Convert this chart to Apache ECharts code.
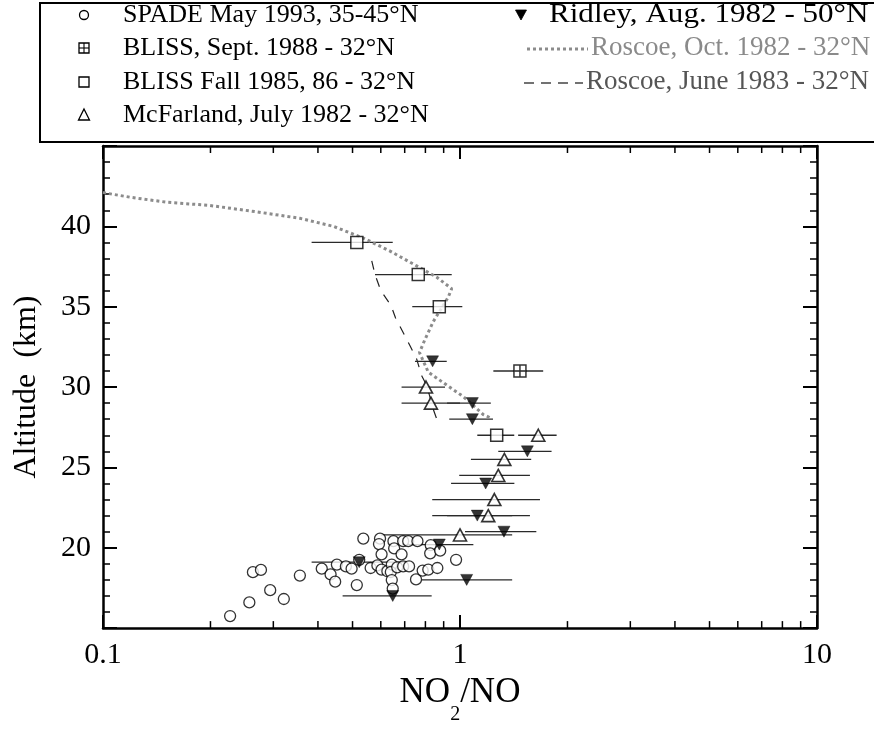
<!DOCTYPE html>
<html>
<head>
<meta charset="utf-8">
<script src="https://cdn.jsdelivr.net/npm/echarts@6/dist/echarts.min.js"></script>
<style>html,body{margin:0;padding:0;background:#fff}#c{width:874px;height:730px}</style>
</head>
<body>
<div id="c"></div>
<script>
// ---- Data ----
// SPADE May 1993 (NO2/NO, altitude km)
var spadeX = [0.227,0.257,0.263,0.277,0.294,0.321,0.356,0.41,0.434,0.452,0.447,0.479,0.497,0.514,0.536,0.522,0.562,0.587,0.597,0.593,0.603,0.603,0.626,0.651,0.654,0.644,0.64,0.644,0.648,0.667,0.686,0.693,0.693,0.716,0.72,0.76,0.753,0.786,0.815,0.828,0.825,0.864,0.88,0.975];
var spadeY = [15.75,16.6,18.48,18.62,17.36,16.81,18.27,18.7,18.34,18.95,17.89,18.84,18.7,17.68,20.57,19.25,18.74,18.9,20.57,20.23,19.59,18.64,18.54,20.41,19.96,18.95,18.49,17.99,17.46,18.78,19.59,20.41,18.84,20.41,18.84,20.41,18.03,18.58,18.64,20.16,19.65,18.74,19.82,19.25];
// BLISS Sept. 1988
var blissSeptX = [1.472];
var blissSeptY = [31];
var blissSeptLo = [1.24];
var blissSeptHi = [1.71];
// BLISS Fall 1985, 86
var blissFallX = [0.514,0.764,0.875,1.267];
var blissFallY = [39,37,35,27];
var blissFallLo = [0.384,0.578,0.735,1.118];
var blissFallHi = [0.648,0.948,1.015,1.419];
// McFarland, July 1982
var mcfX = [0.803,0.829,1.657,1.331,1.28,1.248,1.2,1.0];
var mcfY = [30,29,27,25.5,24.5,23,22,20.8];
var mcfLo = [0.686,0.686,1.455,1.073,0.995,0.836,0.92,0.60];
var mcfHi = [0.908,1.0,1.865,1.583,1.57,1.675,1.57,1.40];
// Ridley, Aug. 1982
var ridX = [0.838,1.083,1.083,1.544,1.18,1.118,1.328,0.875,0.522,1.044,0.648];
var ridY = [31.6,29,28,26,24,22,21,20.2,19.1,18,17];
var ridLo = [0.748,0.92,0.933,1.28,0.944,0.836,1.033,0.69,0.384,0.78,0.469];
var ridHi = [0.918,1.22,1.237,1.805,1.42,1.40,1.636,1.09,0.71,1.40,0.833];
// Roscoe, Oct. 1982 (model profile)
var roscoeOctX = [0.1,0.12,0.151,0.199,0.27,0.356,0.442,0.536,0.637,0.756,0.861,0.948,0.927,0.842,0.798,0.77,0.815,0.918,1.021,1.162,1.23];
var roscoeOctY = [42.1,41.8,41.5,41.3,40.9,40.5,40.0,39.27,38.46,37.54,36.83,36.12,35.6,34.08,32.97,32.15,30.93,30.12,29.41,28.29,28.03];
// Roscoe, June 1983 (model profile)
var roscoeJunX = [0.566,0.578,0.6,0.64,0.66,0.693,0.725,0.756,0.781,0.807,0.842,0.861];
var roscoeJunY = [37.85,37.0,36.0,35.1,34.3,33.4,32.56,31.75,30.7,30.1,28.6,28.0];
// Axis ticks
var xMinorTicks = [0.2,0.3,0.4,0.5,0.6,0.7,0.8,0.9,2,3,4,5,6,7,8,9];
var yHiddenLabels = [15,45];

// ---- Build ----
function pairs(xs, ys){ return xs.map(function(x,i){ return [x, ys[i]]; }); }
function bars(lo, hi, ys){ return ys.map(function(y,i){ return [lo[i], hi[i], y]; }); }

var FONT = "'Liberation Serif','Times New Roman',serif";

function errRender(params, api){
  var a = api.coord([api.value(0), api.value(2)]);
  var b = api.coord([api.value(1), api.value(2)]);
  return {type:'line', shape:{x1:a[0],y1:a[1],x2:b[0],y2:b[1]}, style:{stroke:'#2a2a2a', lineWidth:1.3}};
}
function errSeries(data){
  return {type:'custom', renderItem: errRender, data: data, encode:{x:[0,1], y:2}, z:1, silent:true};
}
function minorTickRender(params, api){
  var cs = params.coordSys;
  var p = api.coord([api.value(0), 30]);
  var bottom = cs.y + cs.height, top = cs.y;
  return {type:'group', children:[
    {type:'line', shape:{x1:p[0], y1:bottom, x2:p[0], y2:bottom-7}, style:{stroke:'#000', lineWidth:1.5}},
    {type:'line', shape:{x1:p[0], y1:top, x2:p[0], y2:top+7}, style:{stroke:'#000', lineWidth:1.5}}
  ]};
}

var plusSquare = 'path://M0,0H10V10H0Z M5,0V10 M0,5H10';
var downTri = 'path://M0,0L12,0L6,11Z';

var option = {
  animation: false,
  backgroundColor: '#fff',
  grid: {left:103, right:57, top:146, bottom:92, containLabel:false},
  xAxis: [{
    type:'log', logBase:10, min:0.1, max:10, position:'bottom',
    name: '{n|NO}{s|2}{n|/NO}', nameLocation:'middle', nameGap:42,
    nameTextStyle: {rich:{
      n:{fontFamily:FONT, fontSize:35, lineHeight:40, verticalAlign:'top', color:'#000'},
      s:{fontFamily:FONT, fontSize:20, lineHeight:20, verticalAlign:'top', padding:[30,0,0,0], color:'#000'}
    }},
    axisLine:{show:true, lineStyle:{color:'#000', width:2.5}},
    axisTick:{show:true, inside:true, length:13, lineStyle:{color:'#000', width:2}},
    axisLabel:{fontFamily:FONT, fontSize:30, color:'#000', margin:12},
    splitLine:{show:false}, minorTick:{show:false}
  },{
    type:'log', logBase:10, min:0.1, max:10, position:'top',
    axisLine:{show:true, lineStyle:{color:'#000', width:2.5}},
    axisTick:{show:true, inside:true, length:13, lineStyle:{color:'#000', width:2}},
    axisLabel:{show:false}, splitLine:{show:false}
  }],
  yAxis: [{
    type:'value', min:15, max:45, interval:5, position:'left',
    name:'Altitude  (km)', nameLocation:'middle', nameGap:60, nameRotate:90,
    nameTextStyle:{fontFamily:FONT, fontSize:32, color:'#000'},
    axisLine:{show:true, lineStyle:{color:'#000', width:2.5}},
    axisTick:{show:true, inside:true, length:14, lineStyle:{color:'#000', width:2}},
    minorTick:{show:true, splitNumber:5, length:7, lineStyle:{color:'#000', width:1.5}},
    axisLabel:{fontFamily:FONT, fontSize:30, color:'#000', margin:12,
      formatter:function(v){ return yHiddenLabels.indexOf(v) >= 0 ? '' : String(v); }},
    splitLine:{show:false}
  },{
    type:'value', min:15, max:45, interval:5, position:'right',
    axisLine:{show:true, lineStyle:{color:'#000', width:2.5}},
    axisTick:{show:true, inside:true, length:14, lineStyle:{color:'#000', width:2}},
    minorTick:{show:true, splitNumber:5, length:7, lineStyle:{color:'#000', width:1.5}},
    axisLabel:{show:false}, splitLine:{show:false}
  }],
  series: [
    {type:'custom', renderItem:minorTickRender, data: xMinorTicks.map(function(v){return [v];}), encode:{x:0}, clip:false, silent:true, z:5},
    errSeries(bars(blissFallLo, blissFallHi, blissFallY)),
    errSeries(bars(blissSeptLo, blissSeptHi, blissSeptY)),
    errSeries(bars(mcfLo, mcfHi, mcfY)),
    errSeries(bars(ridLo, ridHi, ridY)),
    {type:'line', data:pairs(roscoeOctX, roscoeOctY), showSymbol:false, symbol:'none', smooth:false, z:2,
      lineStyle:{color:'#8c8c8c', width:3, type:[3,3]}},
    {type:'line', data:pairs(roscoeJunX, roscoeJunY), showSymbol:false, symbol:'none', z:2,
      lineStyle:{color:'#222', width:1.2, type:[9,9]}},
    {type:'scatter', data:pairs(spadeX, spadeY), symbol:'circle', symbolSize:11, z:3,
      itemStyle:{color:'#fff', borderColor:'#000', borderWidth:1.3}},
    {type:'scatter', data:pairs(blissFallX, blissFallY), symbol:'rect', symbolSize:12, z:4,
      itemStyle:{color:'#fff', borderColor:'#000', borderWidth:1.5}},
    {type:'scatter', data:pairs(blissSeptX, blissSeptY), symbol:plusSquare, symbolSize:12, z:4,
      itemStyle:{color:'#fff', borderColor:'#000', borderWidth:1.5}},
    {type:'scatter', data:pairs(mcfX, mcfY), symbol:'triangle', symbolSize:[13,12], z:4,
      itemStyle:{color:'#fff', borderColor:'#000', borderWidth:1.6}},
    {type:'scatter', data:pairs(ridX, ridY), symbol:downTri, symbolSize:[12,11], z:4,
      itemStyle:{color:'#000', borderColor:'#000', borderWidth:0.5}}
  ],
  graphic: [
    {type:'rect', shape:{x:40, y:3, width:840, height:139}, style:{fill:'#fff', stroke:'#000', lineWidth:2}, z:10},
    // left column markers
    {type:'circle', shape:{cx:84, cy:15, r:4.5}, style:{fill:'#fff', stroke:'#000', lineWidth:1.3}, z:11},
    {type:'rect', shape:{x:79, y:43, width:10, height:10}, style:{fill:'#fff', stroke:'#000', lineWidth:1.3}, z:11},
    {type:'line', shape:{x1:84, y1:43, x2:84, y2:53}, style:{stroke:'#000', lineWidth:1.1}, z:12},
    {type:'line', shape:{x1:79, y1:48, x2:89, y2:48}, style:{stroke:'#000', lineWidth:1.1}, z:12},
    {type:'rect', shape:{x:79, y:77, width:10, height:10}, style:{fill:'#fff', stroke:'#000', lineWidth:1.3}, z:11},
    {type:'polygon', shape:{points:[[84,109],[89.5,120],[78.5,120]]}, style:{fill:'#fff', stroke:'#000', lineWidth:1.3}, z:11},
    // left column texts
    {type:'text', x:123, y:15, z:11, style:{text:'SPADE May 1993, 35-45°N', font:'26px '+FONT, fill:'#000', verticalAlign:'middle'}},
    {type:'text', x:123, y:48, z:11, style:{text:'BLISS, Sept. 1988 - 32°N', font:'26px '+FONT, fill:'#000', verticalAlign:'middle'}},
    {type:'text', x:123, y:82, z:11, style:{text:'BLISS Fall 1985, 86 - 32°N', font:'26px '+FONT, fill:'#000', verticalAlign:'middle'}},
    {type:'text', x:123, y:115, z:11, style:{text:'McFarland, July 1982 - 32°N', font:'26px '+FONT, fill:'#000', verticalAlign:'middle'}},
    // right column
    {type:'polygon', shape:{points:[[515.5,10],[526.5,10],[521,20]]}, style:{fill:'#000', stroke:'#000', lineWidth:0.8}, z:11},
    {type:'text', x:549, y:15, scaleX:1.11, z:11, style:{text:'Ridley, Aug. 1982 - 50°N', font:'28px '+FONT, fill:'#000', verticalAlign:'middle'}},
    {type:'line', shape:{x1:527, y1:49, x2:588, y2:49}, style:{stroke:'#8c8c8c', lineWidth:3, lineDash:[3,3]}, z:11},
    {type:'text', x:591, y:48, z:11, style:{text:'Roscoe, Oct. 1982 - 32°N', font:'27px '+FONT, fill:'#8a8a8a', verticalAlign:'middle'}},
    {type:'line', shape:{x1:524, y1:83, x2:583, y2:83}, style:{stroke:'#444', lineWidth:1.3, lineDash:[10,7]}, z:11},
    {type:'text', x:586, y:82, z:11, style:{text:'Roscoe, June 1983 - 32°N', font:'27px '+FONT, fill:'#555', verticalAlign:'middle'}}
  ]
};
var chart = echarts.init(document.getElementById('c'), null, {renderer:'canvas'});
chart.setOption(option);
</script>
</body>
</html>
